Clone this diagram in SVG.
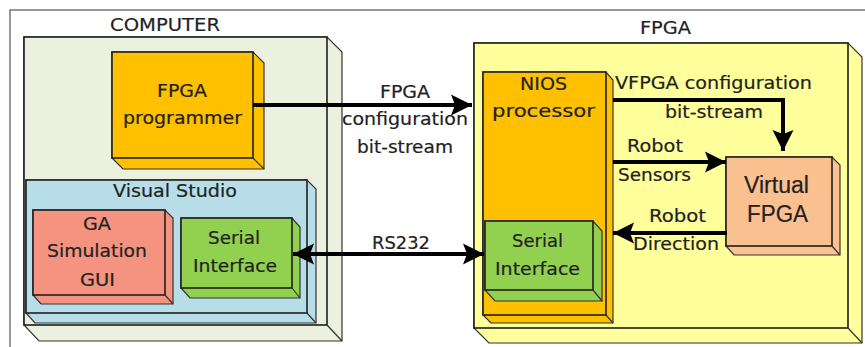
<svg xmlns="http://www.w3.org/2000/svg" width="865" height="347" viewBox="0 0 865 347">
  <style>
    .box { stroke: #333; stroke-width: 1.2; stroke-linejoin: miter; }
    .front { stroke: #1f1f1f; stroke-width: 1.6; }
    .edge { stroke: #333; stroke-width: 1.2; fill: none; }
    .pc { fill: #EBF1DE; }
    .gold { fill: #FFC000; }
    .blue { fill: #B7DEE8; }
    .salmon { fill: #F4937F; }
    .green { fill: #92D050; }
    .yellow { fill: #FFFF9C; }
    .peach { fill: #FAC090; }
    .t { font-family: "DejaVu Sans", "Liberation Sans", sans-serif; font-size: 18px; fill: #222; stroke: #222; stroke-width: 0.2; }
    .tv { font-family: "Liberation Sans", Arial, sans-serif; font-size: 23px; fill: #222; stroke: #222; stroke-width: 0.2; }
    .wire { stroke: #000; stroke-width: 4; fill: none; }
    .frame { stroke: #777; stroke-width: 1.5; fill: none; }
  </style>
  <defs>
    <marker id="head" viewBox="0 0 22 22" markerWidth="22" markerHeight="22" refX="21" refY="11" orient="auto-start-reverse" markerUnits="userSpaceOnUse">
      <path d="M0,0.5 L21,11 L0,21.5 L4,11 Z" fill="#000"/>
    </marker>
  </defs>

  <rect width="865" height="347" fill="#fff"/>
  <!-- page frame -->
  <path class="frame" d="M10,347 L10,10 L865,10"/>

  <!-- COMPUTER -->
  <g id="computer">
    <polygon class="box pc" points="24,37 327,37 342,52 342,341 39,341 24,325"/>
    <rect class="front pc" x="24" y="37" width="303" height="288"/>
    <line class="edge" x1="327" y1="325" x2="342" y2="341"/>
    <text class="t" x="110" y="31" textLength="110" lengthAdjust="spacingAndGlyphs">COMPUTER</text>
  </g>

  <!-- FPGA programmer -->
  <g id="fpga-programmer">
    <polygon class="box gold" points="112,52 253,52 264,63 264,169 123,169 112,158"/>
    <rect class="front gold" x="112" y="52" width="141" height="106"/>
    <line class="edge" x1="253" y1="158" x2="264" y2="169"/>
    <text class="t" x="157" y="97" textLength="50" lengthAdjust="spacingAndGlyphs">FPGA</text>
    <text class="t" x="123" y="124" textLength="119" lengthAdjust="spacingAndGlyphs">programmer</text>
  </g>

  <!-- Visual Studio -->
  <g id="visual-studio">
    <polygon class="box blue" points="26,180 307,180 316,189 316,323 35,323 26,313"/>
    <rect class="front blue" x="26" y="180" width="281" height="133"/>
    <line class="edge" x1="307" y1="313" x2="316" y2="323"/>
    <text class="t" x="113" y="197" textLength="124" lengthAdjust="spacingAndGlyphs">Visual Studio</text>
  </g>

  <!-- GA Simulation GUI -->
  <g id="ga-gui">
    <polygon class="box salmon" points="33,210 165,210 173,218 173,304 41,304 33,295"/>
    <rect class="front salmon" x="33" y="210" width="132" height="85"/>
    <line class="edge" x1="165" y1="295" x2="173" y2="304"/>
    <text class="t" x="83" y="230" textLength="28" lengthAdjust="spacingAndGlyphs">GA</text>
    <text class="t" x="47" y="257" textLength="100" lengthAdjust="spacingAndGlyphs">Simulation</text>
    <text class="t" x="80" y="286" textLength="35" lengthAdjust="spacingAndGlyphs">GUI</text>
  </g>

  <!-- Serial Interface (computer side) -->
  <g id="serial-pc">
    <polygon class="box green" points="181,218 292,218 300,227 300,298 190,298 181,288"/>
    <rect class="front green" x="181" y="218" width="111" height="70"/>
    <line class="edge" x1="292" y1="288" x2="300" y2="298"/>
    <text class="t" x="208" y="244" textLength="52" lengthAdjust="spacingAndGlyphs">Serial</text>
    <text class="t" x="193" y="272" textLength="84" lengthAdjust="spacingAndGlyphs">Interface</text>
  </g>

  <!-- FPGA board -->
  <g id="fpga">
    <polygon class="box yellow" points="474,43 848,43 862,57 862,343 489,343 474,328"/>
    <rect class="front yellow" x="474" y="43" width="374" height="285"/>
    <line class="edge" x1="848" y1="328" x2="862" y2="343"/>
    <text class="t" x="640" y="34" textLength="51" lengthAdjust="spacingAndGlyphs">FPGA</text>
  </g>

  <!-- NIOS processor -->
  <g id="nios">
    <polygon class="box gold" points="483,72 606,72 613,80 613,323 491,323 483,315"/>
    <rect class="front gold" x="483" y="72" width="123" height="243"/>
    <line class="edge" x1="606" y1="315" x2="613" y2="323"/>
    <text class="t" x="520" y="90" textLength="47" lengthAdjust="spacingAndGlyphs">NIOS</text>
    <text class="t" x="492" y="117" textLength="103" lengthAdjust="spacingAndGlyphs">processor</text>
  </g>

  <!-- Serial Interface (NIOS side) -->
  <g id="serial-nios">
    <polygon class="box green" points="485,221 593,221 602,231 602,301 495,301 485,290"/>
    <rect class="front green" x="485" y="221" width="108" height="69"/>
    <line class="edge" x1="593" y1="290" x2="602" y2="301"/>
    <text class="t" x="512" y="247" textLength="51" lengthAdjust="spacingAndGlyphs">Serial</text>
    <text class="t" x="495" y="275" textLength="85" lengthAdjust="spacingAndGlyphs">Interface</text>
  </g>

  <!-- Virtual FPGA -->
  <g id="virtual-fpga">
    <polygon class="box peach" points="726,157 832,157 840,165 840,255 734,255 726,246"/>
    <rect class="front peach" x="726" y="157" width="106" height="89"/>
    <line class="edge" x1="832" y1="246" x2="840" y2="255"/>
    <text class="tv" x="744" y="193" textLength="65" lengthAdjust="spacingAndGlyphs">Virtual</text>
    <text class="tv" x="747" y="221.5" textLength="61" lengthAdjust="spacingAndGlyphs">FPGA</text>
  </g>

  <!-- connectors and their labels -->
  <g id="connectors">
    <path class="wire" d="M253,105 L472,105" marker-end="url(#head)"/>
    <text class="t" x="380" y="98" textLength="50" lengthAdjust="spacingAndGlyphs">FPGA</text>
    <text class="t" x="342" y="125" textLength="126" lengthAdjust="spacingAndGlyphs">configuration</text>
    <text class="t" x="357" y="153" textLength="96" lengthAdjust="spacingAndGlyphs">bit-stream</text>

    <path class="wire" d="M293,254 L484,254" marker-start="url(#head)" marker-end="url(#head)"/>
    <text class="t" x="372" y="249" textLength="58" lengthAdjust="spacingAndGlyphs">RS232</text>

    <path class="wire" d="M613,100 L783,100 L783,151" marker-end="url(#head)"/>
    <text class="t" x="615" y="89" textLength="197" lengthAdjust="spacingAndGlyphs">VFPGA configuration</text>
    <text class="t" x="665" y="118" textLength="98" lengthAdjust="spacingAndGlyphs">bit-stream</text>

    <path class="wire" d="M613,162 L726,162" marker-end="url(#head)"/>
    <text class="t" x="627" y="152" textLength="56" lengthAdjust="spacingAndGlyphs">Robot</text>
    <text class="t" x="618" y="181" textLength="73" lengthAdjust="spacingAndGlyphs">Sensors</text>

    <path class="wire" d="M727,233 L613,233" marker-end="url(#head)"/>
    <text class="t" x="649" y="222" textLength="57" lengthAdjust="spacingAndGlyphs">Robot</text>
    <text class="t" x="633" y="250" textLength="86" lengthAdjust="spacingAndGlyphs">Direction</text>
  </g>
</svg>
